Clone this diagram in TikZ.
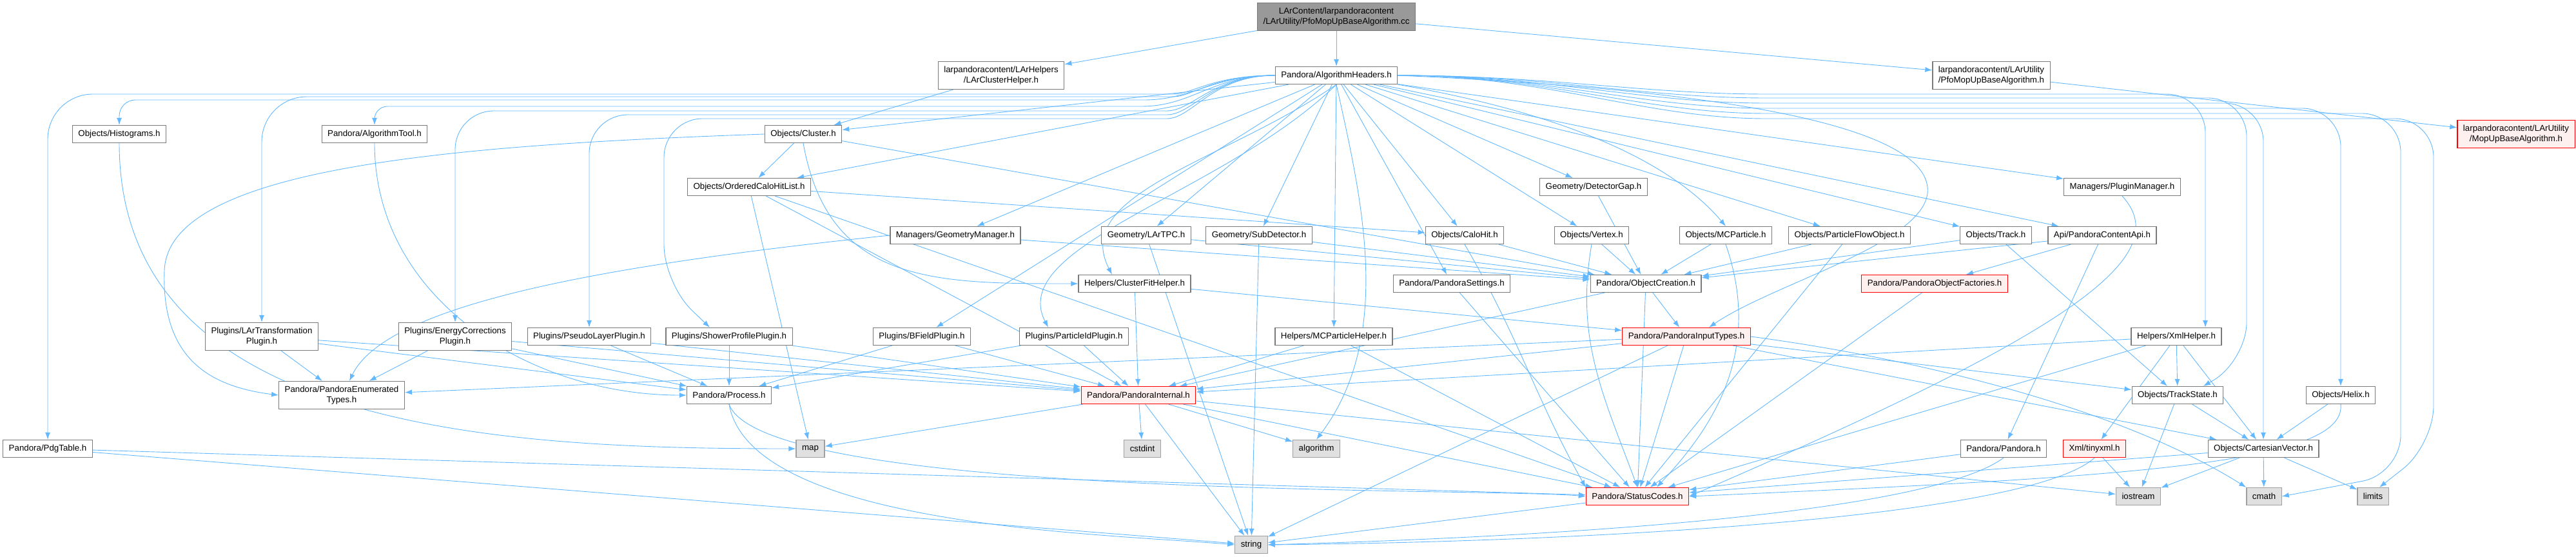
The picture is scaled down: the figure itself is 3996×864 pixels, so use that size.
\documentclass[tikz,border=0pt]{standalone}
\usepackage{fontspec}
\setmainfont{Liberation Sans}
\usetikzlibrary{arrows.meta, backgrounds}

\definecolor{edgeblue}{HTML}{63B8FF}
\definecolor{boxgray}{HTML}{7A7A7A}
\definecolor{sysline}{HTML}{A0A0A0}
\definecolor{sysfill}{HTML}{E0E0E0}
\definecolor{rootfill}{HTML}{999999}
\definecolor{redfill}{HTML}{FFF0F0}

\begin{document}
\begin{tikzpicture}[
    x=1pt, y=1pt,
    font=\fontsize{13.3}{16}\selectfont,
    inc_block/.style={rectangle, draw=boxgray, fill=white, line width=1.2pt, minimum height=27pt, inner xsep=9pt, inner ysep=2pt, align=center},
    two_block/.style={inc_block, minimum height=43pt},
    root_block/.style={two_block, fill=rootfill},
    red_block/.style={inc_block, draw=red, fill=redfill},
    sys_block/.style={inc_block, draw=sysline, fill=sysfill},
    line/.style={draw=edgeblue, line width=0.9pt, -{Latex[length=11pt, width=8pt]}}
  ]
  \useasboundingbox (0,0) rectangle (3996,-864);

  % Place nodes, row by row
  \node [root_block] (F_root) at (2073,-26) {LArContent/larpandoracontent\\/LArUtility/PfoMopUpBaseAlgorithm.cc};

  \node [two_block] (F_clhelp) at (1553,-117) {larpandoracontent/LArHelpers\\/LArClusterHelper.h};
  \node [inc_block] (F_algh) at (2073,-117) {Pandora/AlgorithmHeaders.h};
  \node [two_block] (F_pfomop) at (3089,-117) {larpandoracontent/LArUtility\\/PfoMopUpBaseAlgorithm.h};

  \node [inc_block] (F_hist) at (185,-208) {Objects/Histograms.h};
  \node [inc_block] (F_algtool) at (581,-208) {Pandora/AlgorithmTool.h};
  \node [inc_block] (F_cluster) at (1246,-208) {Objects/Cluster.h};
  \node [red_block, minimum height=43pt] (F_mopup) at (3903,-208) {larpandoracontent/LArUtility\\/MopUpBaseAlgorithm.h};

  \node [inc_block] (F_ochl) at (1162,-290) {Objects/OrderedCaloHitList.h};
  \node [inc_block] (F_detgap) at (2472,-290) {Geometry/DetectorGap.h};
  \node [inc_block] (F_plugmgr) at (3292,-290) {Managers/PluginManager.h};

  \node [inc_block] (F_geomgr) at (1482,-365) {Managers/GeometryManager.h};
  \node [inc_block] (F_lartpc) at (1778,-365) {Geometry/LArTPC.h};
  \node [inc_block] (F_subdet) at (1953,-365) {Geometry/SubDetector.h};
  \node [inc_block] (F_calohit) at (2272,-365) {Objects/CaloHit.h};
  \node [inc_block] (F_vertex) at (2469,-365) {Objects/Vertex.h};
  \node [inc_block] (F_mcpart) at (2677,-365) {Objects/MCParticle.h};
  \node [inc_block] (F_pfo) at (2869,-365) {Objects/ParticleFlowObject.h};
  \node [inc_block] (F_track) at (3096,-365) {Objects/Track.h};
  \node [inc_block] (F_api) at (3261,-365) {Api/PandoraContentApi.h};

  \node [inc_block] (F_cfhelp) at (1760,-440) {Helpers/ClusterFitHelper.h};
  \node [inc_block] (F_settings) at (2252,-440) {Pandora/PandoraSettings.h};
  \node [inc_block] (F_objcre) at (2553,-440) {Pandora/ObjectCreation.h};
  \node [red_block] (F_factories) at (3001,-440) {Pandora/PandoraObjectFactories.h};

  \node [two_block] (F_lartrans) at (406,-522) {Plugins/LArTransformation\\Plugin.h};
  \node [two_block] (F_energy) at (706,-522) {Plugins/EnergyCorrections\\Plugin.h};
  \node [inc_block] (F_pseudo) at (914,-522) {Plugins/PseudoLayerPlugin.h};
  \node [inc_block] (F_shower) at (1131,-522) {Plugins/ShowerProfilePlugin.h};
  \node [inc_block] (F_bfield) at (1430,-522) {Plugins/BFieldPlugin.h};
  \node [inc_block] (F_pid) at (1666,-522) {Plugins/ParticleIdPlugin.h};
  \node [inc_block] (F_mchelp) at (2069,-522) {Helpers/MCParticleHelper.h};
  \node [red_block] (F_inputtypes) at (2616,-522) {Pandora/PandoraInputTypes.h};
  \node [inc_block] (F_xmlhelp) at (3376,-522) {Helpers/XmlHelper.h};

  \node [two_block] (F_enumtypes) at (530,-613) {Pandora/PandoraEnumerated\\Types.h};
  \node [inc_block] (F_process) at (1131,-613) {Pandora/Process.h};
  \node [red_block] (F_internal) at (1766,-613) {Pandora/PandoraInternal.h};
  \node [inc_block] (F_trackstate) at (3378,-613) {Objects/TrackState.h};
  \node [inc_block] (F_helix) at (3631,-613) {Objects/Helix.h};

  \node [inc_block] (F_pdg) at (74,-696) {Pandora/PdgTable.h};
  \node [sys_block] (F_map) at (1257,-696) {map};
  \node [sys_block] (F_cstdint) at (1772,-696) {cstdint};
  \node [sys_block] (F_algorithm) at (2042,-696) {algorithm};
  \node [inc_block] (F_pandora) at (3108,-696) {Pandora/Pandora.h};
  \node [red_block] (F_tinyxml) at (3249,-696) {Xml/tinyxml.h};
  \node [inc_block] (F_cartvec) at (3511,-696) {Objects/CartesianVector.h};

  \node [red_block] (F_statuscodes) at (2540,-770) {Pandora/StatusCodes.h};
  \node [sys_block] (F_iostream) at (3317,-770) {iostream};
  \node [sys_block] (F_cmath) at (3512,-770) {cmath};
  \node [sys_block] (F_limits) at (3681,-770) {limits};

  \node [sys_block] (F_string) at (1941,-845) {string};

  % Draw edges (behind the boxes)
  \begin{pgfonlayer}{background}
    \path [line] (F_root) -- (F_clhelp);
    \path [line] (F_root) -- (F_algh);
    \path [line] (F_root) -- (F_pfomop);
    \path [line] (F_pfomop) -- (F_mopup);
    \path [line] (F_clhelp) -- (F_cluster);

    % AlgorithmHeaders: long runs to the left
    \path [line, rounded corners=70] (F_algh.west) .. controls (1880,-117) and (1850,-146) .. (1750,-146) -| (F_pdg.north);
    \path [line, rounded corners=70] (F_algh.west) .. controls (1880,-117) and (1850,-150) .. (1750,-150) -| (F_lartrans.north);
    \path [line, rounded corners=25] (F_algh.west) .. controls (1880,-117) and (1850,-155) .. (1750,-155) -| (F_hist.north);
    \path [line, rounded corners=20] (F_algh.west) .. controls (1880,-117) and (1850,-165) .. (1750,-165) -| (F_algtool.north);
    \path [line, rounded corners=60] (F_algh.west) .. controls (1880,-117) and (1850,-172) .. (1750,-172) -| (F_energy.north);
    \path [line, rounded corners=60] (F_algh.west) .. controls (1880,-117) and (1850,-178) .. (1750,-178) -| (F_pseudo.north);
    \path [line, rounded corners=60] (F_algh.west) .. controls (1880,-117) and (1850,-184) .. (1750,-184) -| (1030,-440) -- ([xshift=-30pt]F_shower.north);

    % AlgorithmHeaders: long runs to the right
    \path [line, rounded corners=60] (F_algh.east) .. controls (2400,-117) and (2550,-146) .. (2800,-146) -| ([xshift=45pt]F_xmlhelp.north);
    \path [line, rounded corners=60] (F_algh.east) .. controls (2400,-117) and (2550,-152) .. (2800,-152) -| (3485,-560) -- ([xshift=40pt]F_trackstate.north);
    \path [line, rounded corners=60] (F_algh.east) .. controls (2400,-117) and (2550,-160) .. (2800,-160) -| (F_cartvec.north);
    \path [line, rounded corners=60] (F_algh.east) .. controls (2400,-117) and (2550,-168) .. (2800,-168) -| (F_helix.north);
    \path [line, rounded corners=60] (F_algh.east) .. controls (2400,-117) and (2550,-176) .. (2800,-176) -| (3724,-735) -- (F_cmath.east);
    \path [line, rounded corners=60] (F_algh.east) .. controls (2400,-117) and (2550,-184) .. (2800,-184) -| (3775,-690) -- ([xshift=10pt]F_limits.north);
    \path [line] (F_algh.east) .. controls (2700,-140) and (3000,-200) .. (2990,-300) .. controls (2980,-380) and (2750,-440) .. ([xshift=35pt]F_inputtypes.north);

    % AlgorithmHeaders: the fan below it
    \path [line] (F_algh) -- (F_cluster);
    \path [line] (F_algh) -- (F_ochl);
    \path [line] (F_algh) -- (F_geomgr);
    \path [line] (F_algh) -- (F_lartpc);
    \path [line] (F_algh) -- (F_subdet);
    \path [line] (F_algh) -- (F_calohit);
    \path [line] (F_algh) -- (F_vertex);
    \path [line] (F_algh) -- (F_detgap);
    \path [line] (F_algh.south east) .. controls (2450,-180) and (2600,-260) .. (F_mcpart.north);
    \path [line] (F_algh) -- (F_pfo);
    \path [line] (F_algh) -- (F_track);
    \path [line] (F_algh) -- (F_api);
    \path [line] (F_algh) -- (F_plugmgr);
    \path [line] (F_algh) -- (F_settings);
    \path [line] (F_algh) -- (F_bfield);
    \path [line] (F_algh) -- (F_mchelp);
    \path [line] (F_algh.south) .. controls (1900,-250) and (1660,-300) .. ([xshift=-35pt]F_cfhelp.north);
    \path [line] (F_algh.south) .. controls (1900,-300) and (1560,-380) .. ([xshift=-40pt]F_pid.north);
    \path [line] (F_algh.south) .. controls (2110,-300) and (2165,-520) .. (F_algorithm.north);

    % Objects and helpers
    \path [line] (F_hist.south) .. controls (185,-671) and (783,-696) .. (F_map.west);
    \path [line] (F_algtool.south) .. controls (581,-464) and (822,-613) .. (F_process.west);
    \path [line] (F_cluster) -- (F_ochl);
    \path [line] (F_cluster.south) .. controls (1285,-441) and (1450,-440) .. (F_cfhelp.west);
    \path [line] (F_cluster) -- (F_objcre);
    \path [line] (F_cluster.west) .. controls (700,-225) and (260,-260) .. (255,-420) .. controls (250,-560) and (330,-600) .. (F_enumtypes.west);
    \path [line] (F_ochl) -- (F_calohit);
    \path [line] (F_ochl) -- (F_map);
    \path [line] (F_ochl) -- (F_internal);
    \path [line] (F_ochl) -- (F_statuscodes);
    \path [line] (F_geomgr) -- (F_objcre);
    \path [line] (F_geomgr.west) .. controls (950,-410) and (600,-470) .. ([xshift=12pt]F_enumtypes.north);
    \path [line] (F_lartpc) -- (F_objcre);
    \path [line] (F_lartpc) -- (F_string);
    \path [line] (F_subdet) -- (F_objcre);
    \path [line] (F_subdet) -- (F_string);
    \path [line] (F_detgap) -- (F_objcre);
    \path [line] (F_calohit) -- (F_objcre);
    \path [line] (F_calohit.south) .. controls (2357,-525) and (2382,-618) .. (F_statuscodes.north west);
    \path [line] (F_vertex) -- (F_objcre);
    \path [line] (F_vertex.south) .. controls (2443,-527) and (2488,-615) .. (F_statuscodes.north);
    \path [line] (F_mcpart) -- (F_objcre);
    \path [line] (F_mcpart.south) .. controls (2740,-560) and (2640,-680) .. ([xshift=30pt]F_statuscodes.north);
    \path [line] (F_pfo) -- (F_objcre);
    \path [line] (F_pfo) -- (F_statuscodes);
    \path [line] (F_track) -- (F_objcre);
    \path [line] (F_track) -- (F_trackstate);
    \path [line] (F_api) -- (F_objcre);
    \path [line] (F_api) -- (F_factories);
    \path [line] (F_api) -- (F_pandora);
    \path [line] (F_plugmgr.south) .. controls (3380,-400) and (3200,-520) .. (F_statuscodes.east);
    \path [line] (F_cfhelp) -- (F_inputtypes);
    \path [line] (F_cfhelp) -- (F_internal);
    \path [line] (F_settings) -- (F_statuscodes);
    \path [line] (F_objcre) -- (F_inputtypes);
    \path [line] (F_objcre) -- (F_internal);
    \path [line] (F_objcre) -- (F_statuscodes);
    \path [line] (F_factories) -- (F_statuscodes);

    % Plugins
    \path [line] (F_lartrans) -- (F_enumtypes);
    \path [line] (F_lartrans) -- (F_process);
    \path [line] (F_lartrans) -- (F_internal);
    \path [line] (F_energy) -- (F_enumtypes);
    \path [line] (F_energy) -- (F_process);
    \path [line] (F_energy) -- (F_internal);
    \path [line] (F_pseudo) -- (F_process);
    \path [line] (F_pseudo) -- (F_internal);
    \path [line] (F_shower) -- (F_process);
    \path [line] (F_shower) -- (F_internal);
    \path [line] (F_bfield) -- (F_process);
    \path [line] (F_bfield) -- (F_internal);
    \path [line] (F_pid) -- (F_process);
    \path [line] (F_pid) -- (F_internal);
    \path [line] (F_mchelp) -- (F_internal);
    \path [line] (F_mchelp) -- (F_statuscodes);

    % Input types and xml helper
    \path [line] (F_inputtypes) -- (F_internal);
    \path [line] (F_inputtypes) -- (F_enumtypes);
    \path [line] (F_inputtypes) -- (F_statuscodes);
    \path [line] (F_inputtypes) -- (F_string);
    \path [line] (F_inputtypes) -- (F_trackstate);
    \path [line] (F_inputtypes) -- (F_cartvec);
    \path [line] (F_inputtypes.east) .. controls (3000,-560) and (3300,-640) .. (F_cmath.north west);
    \path [line] (F_xmlhelp) -- (F_internal);
    \path [line] (F_xmlhelp) -- (F_tinyxml);
    \path [line] (F_xmlhelp) -- (F_trackstate);
    \path [line] (F_xmlhelp) -- (F_cartvec);
    \path [line] (F_xmlhelp) -- (F_statuscodes);

    % Lower rows
    \path [line] (F_process.south) .. controls (1185,-775) and (2305,-756) .. (F_statuscodes.west);
    \path [line] (F_process.south) .. controls (1165,-819) and (1721,-828) .. (F_string.west);
    \path [line] (F_internal) -- (F_map);
    \path [line] (F_internal) -- (F_cstdint);
    \path [line] (F_internal) -- (F_algorithm);
    \path [line] (F_internal) -- (F_string);
    \path [line] (F_internal) -- (F_statuscodes);
    \path [line] (F_internal) -- (F_iostream);
    \path [line] (F_trackstate) -- (F_cartvec);
    \path [line] (F_trackstate) -- (F_iostream);
    \path [line] (F_helix) -- (F_cartvec);
    \path [line] (F_helix.south) .. controls (3640,-720) and (3300,-740) .. (F_statuscodes.east);
    \path [line] (F_pdg) -- (F_statuscodes);
    \path [line] (F_pdg) -- (F_string);
    \path [line] (F_pandora) -- (F_statuscodes);
    \path [line] (F_pandora.south) .. controls (3000,-790) and (2500,-830) .. (F_string.east);
    \path [line] (F_tinyxml) -- (F_iostream);
    \path [line] (F_tinyxml.south) .. controls (3150,-800) and (2500,-840) .. (F_string.east);
    \path [line] (F_cartvec) -- (F_iostream);
    \path [line] (F_cartvec) -- (F_cmath);
    \path [line] (F_cartvec) -- (F_limits);
    \path [line] (F_cartvec) -- (F_statuscodes);
    \path [line] (F_statuscodes) -- (F_string);
  \end{pgfonlayer}
\end{tikzpicture}
\end{document}
